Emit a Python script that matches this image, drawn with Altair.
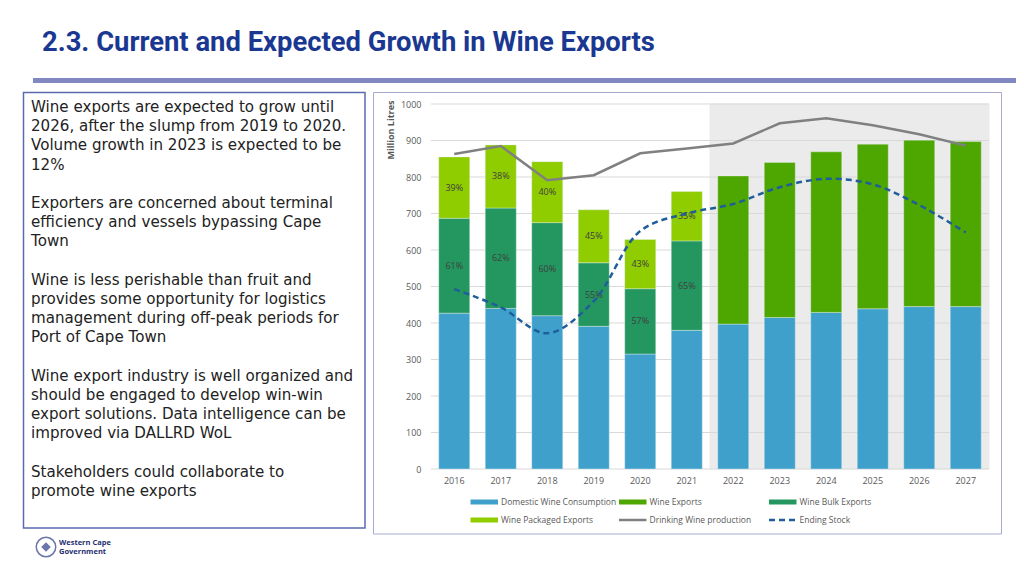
import altair as alt
import pandas as pd

# ---------------- data ----------------
years = [str(y) for y in range(2016, 2028)]
hist_years = years[:6]
fc_years = years[6:]
domestic = [427, 440, 420, 391, 315, 380, 397, 415, 429, 439, 445, 445]
bulk = [260, 275, 255, 174, 179, 245]
packaged = [168, 173, 167, 145, 135, 135]
exports_fc = [406, 425, 440, 451, 456, 452]
bulk_pct = ["61%", "62%", "60%", "55%", "57%", "65%"]
packaged_pct = ["39%", "38%", "40%", "45%", "43%", "35%"]
production = [863, 885, 791, 805, 865, 878, 892, 947, 961, 942, 917, 886]
stock = [493, 443, 372, 460, 652, 700, 726, 772, 795, 780, 723, 648]
y_ticks = list(range(0, 1001, 100))

series_names = ["Domestic Wine Consumption", "Wine Exports", "Wine Bulk Exports",
                "Wine Packaged Exports", "Drinking Wine production", "Ending Stock"]
series_colors = ["#3FA1CB", "#4EA600", "#23975F", "#8FCC00", "#808080", "#1F5E9A"]

title_text = "2.3. Current and Expected Growth in Wine Exports"
paragraphs = [
    ["Wine exports are expected to grow until",
     "2026, after the slump from 2019 to 2020.",
     "Volume growth in 2023 is expected to be",
     "12%"],
    ["Exporters are concerned about terminal",
     "efficiency and vessels bypassing Cape",
     "Town"],
    ["Wine is less perishable than fruit and",
     "provides some opportunity for logistics",
     "management during off-peak periods for",
     "Port of Cape Town"],
    ["Wine export industry is well organized and",
     "should be engaged to develop win-win",
     "export solutions. Data intelligence can be",
     "improved via DALLRD WoL"],
    ["Stakeholders could collaborate to",
     "promote wine exports"],
]

# ---------------- tables ----------------
rows = []
for i, yr in enumerate(years):
    base = domestic[i]
    rows.append(dict(year=yr, series=series_names[0], y0=0, y1=base, label=""))
    if i < 6:
        b, p = bulk[i], packaged[i]
        rows.append(dict(year=yr, series=series_names[2], y0=base, y1=base + b, label=bulk_pct[i]))
        rows.append(dict(year=yr, series=series_names[3], y0=base + b, y1=base + b + p, label=packaged_pct[i]))
    else:
        e = exports_fc[i - 6]
        rows.append(dict(year=yr, series=series_names[1], y0=base, y1=base + e, label=""))
bars = pd.DataFrame(rows)
bars["mid"] = (bars["y0"] + bars["y1"]) / 2
labels = bars[bars["label"] != ""]

lines = pd.DataFrame({"year": years, "production": production, "stock": stock})
fc = pd.DataFrame({"year": fc_years})
grid = pd.DataFrame({"v": y_ticks})
one = pd.DataFrame({"k": [0]})

# ---------------- layout ----------------
W, H = 558, 365
PL, PT = 423, 96          # plot origin at page (431,104)
FONT = "Open Sans"
GREY_TXT = "#595959"


def px(x):
    return x - (PL + 8)


def py(y):
    return y - (PT + 8)


x_enc = alt.X("year:O",
              scale=alt.Scale(domain=years, paddingInner=0, paddingOuter=0),
              axis=alt.Axis(title=None, labelAngle=0, ticks=False, domain=False, grid=False,
                            labelPadding=7, labelFontSize=9, labelColor=GREY_TXT, labelFont=FONT))
y_scale = alt.Scale(domain=[0, 1000], nice=False, zero=True)
y_axis = alt.Axis(title=None, values=y_ticks, grid=False, ticks=False, domain=False, format="d",
                  labelPadding=10, labelFontSize=9, labelColor=GREY_TXT, labelFont=FONT)

shade = alt.Chart(fc).mark_rect(color="#EBEBEB", stroke="#EBEBEB", strokeWidth=1).encode(
    x=x_enc, y=alt.value(0), y2=alt.value(H))

gridlines = alt.Chart(grid).mark_rule(color="#D9D9D9", strokeWidth=1).encode(
    y=alt.Y("v:Q", scale=y_scale, axis=y_axis))

bar_layer = alt.Chart(bars).mark_bar(width=alt.RelativeBandSize(0.667), stroke="#E8F2F6",
                                     strokeWidth=0.4).encode(
    x=x_enc,
    y=alt.Y("y0:Q", scale=y_scale, axis=y_axis),
    y2="y1:Q",
    color=alt.Color("series:N", scale=alt.Scale(domain=series_names[:4], range=series_colors[:4]),
                    legend=None),
)

pct = alt.Chart(labels).mark_text(font=FONT, fontSize=9, color="#404040", baseline="middle").encode(
    x=x_enc, y=alt.Y("mid:Q", scale=y_scale, axis=y_axis), text="label:N")

prod_line = alt.Chart(lines).mark_line(color=series_colors[4], strokeWidth=2.5).encode(
    x=x_enc, y=alt.Y("production:Q", scale=y_scale, axis=y_axis))

stock_line = alt.Chart(lines).mark_line(color=series_colors[5], strokeWidth=2.5, strokeDash=[6, 4],
                                        interpolate="catmull-rom").encode(
    x=x_enc, y=alt.Y("stock:Q", scale=y_scale, axis=y_axis))

# ---------------- slide decorations ----------------
deco = []
deco.append(alt.Chart(one).mark_text(text=title_text, font="Roboto", fontWeight="bold", fontSize=27.4,
                                     color="#1A3891", align="left", baseline="middle").encode(
    x=alt.value(px(42)), y=alt.value(py(43))))
deco.append(alt.Chart(one).mark_rect(color="#8087C1").encode(
    x=alt.value(px(33)), x2=alt.value(px(1016)), y=alt.value(py(78)), y2=alt.value(py(83))))
deco.append(alt.Chart(one).mark_rect(filled=False, stroke="#5B6BAE", strokeWidth=1.5).encode(
    x=alt.value(px(23.5)), x2=alt.value(px(365)), y=alt.value(py(92.5)), y2=alt.value(py(528))))
deco.append(alt.Chart(one).mark_rect(filled=False, stroke="#A8AACF", strokeWidth=1).encode(
    x=alt.value(px(373.5)), x2=alt.value(px(1001.5)), y=alt.value(py(92.5)), y2=alt.value(py(534))))

LINE_H = 19.2
line_idx = 0
for para in paragraphs:
    deco.append(alt.Chart(one).mark_text(text=para, font="DejaVu Sans", fontSize=15.1, lineHeight=LINE_H,
                                         color="#222222", align="left", baseline="alphabetic").encode(
        x=alt.value(px(31)), y=alt.value(py(112 + line_idx * LINE_H))))
    line_idx += len(para) + 1

deco.append(alt.Chart(one).mark_text(text="Million Litres", font=FONT, fontWeight="bold", fontSize=9,
                                     color=GREY_TXT, angle=270, align="center",
                                     baseline="middle").encode(
    x=alt.value(px(391)), y=alt.value(py(130))))

# legend (drawn by hand: 3 columns x 2 rows)
col_x = [470.5, 619, 769]
row_y = [502, 520]
for i, name in enumerate(series_names):
    cx = col_x[i % 3]
    cy = row_y[i // 3]
    if i < 4:
        deco.append(alt.Chart(one).mark_rect(color=series_colors[i]).encode(
            x=alt.value(px(cx)), x2=alt.value(px(cx + 27.5)),
            y=alt.value(py(cy - 2.5)), y2=alt.value(py(cy + 2.5))))
    else:
        kw = dict(strokeDash=[6, 4]) if name == "Ending Stock" else {}
        deco.append(alt.Chart(one).mark_rule(color=series_colors[i], strokeWidth=2.5, **kw).encode(
            x=alt.value(px(cx)), x2=alt.value(px(cx + 27.5)), y=alt.value(py(cy))))
    deco.append(alt.Chart(one).mark_text(text=name, font=FONT, fontSize=8.5, color=GREY_TXT,
                                         align="left", baseline="middle").encode(
        x=alt.value(px(cx + 30.5)), y=alt.value(py(cy))))

# logo
deco.append(alt.Chart(one).mark_point(shape="circle", size=380, filled=False, stroke="#2B3A86",
                                      strokeWidth=1.5).encode(
    x=alt.value(px(46)), y=alt.value(py(547))))
deco.append(alt.Chart(one).mark_point(shape="diamond", size=90, filled=True, color="#2B3A86").encode(
    x=alt.value(px(46)), y=alt.value(py(547))))
deco.append(alt.Chart(one).mark_text(text=["Western Cape", "Government"], font=FONT, fontWeight="bold",
                                     fontSize=7.5, lineHeight=8.5, color="#1F2F6F", align="left",
                                     baseline="alphabetic").encode(
    x=alt.value(px(59)), y=alt.value(py(545))))

chart = alt.layer(shade, gridlines, bar_layer, pct, prod_line, stock_line, *deco).properties(
    width=W, height=H,
    padding={"left": PL, "top": PT, "right": 27, "bottom": 94},
    autosize=alt.AutoSizeParams(type="none"),
).configure_view(stroke=None)

chart.save("out.html", embed_options={"renderer": "svg", "actions": False})
